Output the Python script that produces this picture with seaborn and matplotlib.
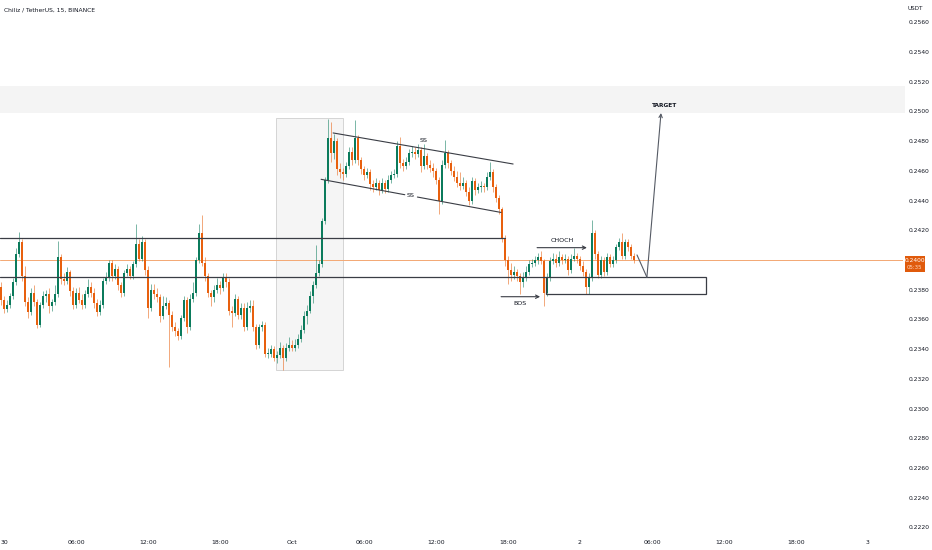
import numpy as np
import pandas as pd
import matplotlib
matplotlib.use("Agg")
import matplotlib.pyplot as plt
import matplotlib.transforms as mtransforms
from matplotlib.patches import Rectangle
from matplotlib import font_manager
import seaborn as sns

# ---------------- data (15-minute candles, CHZ/USDT) ----------------
first_open = 0.2382
closes = [
    0.2373, 0.2367, 0.2370, 0.2376, 0.2385, 0.2404, 0.2412, 0.2389, 0.2372, 0.2365,
    0.2378, 0.2372, 0.2356, 0.2370, 0.2376, 0.2377, 0.2369, 0.2372, 0.2377, 0.2402,
    0.2387, 0.2386, 0.2392, 0.2379, 0.2370, 0.2378, 0.2373, 0.2370, 0.2377, 0.2382,
    0.2378, 0.2371, 0.2365, 0.2370, 0.2386, 0.2388, 0.2398, 0.2389, 0.2394, 0.2383,
    0.2378, 0.2391, 0.2394, 0.2389, 0.2397, 0.2411, 0.2401, 0.2412, 0.2393, 0.2368,
    0.2380, 0.2377, 0.2375, 0.2362, 0.2369, 0.2371, 0.2363, 0.2355, 0.2352, 0.2349,
    0.2361, 0.2373, 0.2355, 0.2374, 0.2378, 0.2400, 0.2418, 0.2398, 0.2389, 0.2378,
    0.2375, 0.2380, 0.2383, 0.2381, 0.2388, 0.2385, 0.2366, 0.2364, 0.2374, 0.2363,
    0.2368, 0.2355, 0.2368, 0.2369, 0.2355, 0.2343, 0.2355, 0.2356, 0.2337, 0.2337,
    0.2340, 0.2334, 0.2336, 0.2341, 0.2334, 0.2341, 0.2343, 0.2341, 0.2343, 0.2347,
    0.2353, 0.2362, 0.2366, 0.2376, 0.2383, 0.2391, 0.2397, 0.2426, 0.2454, 0.2482,
    0.2472, 0.2480, 0.2461, 0.2459, 0.2458, 0.2463, 0.2473, 0.2467, 0.2482, 0.2467,
    0.2461, 0.2457, 0.2459, 0.2451, 0.2449, 0.2452, 0.2447, 0.2452, 0.2448, 0.2454,
    0.2457, 0.2458, 0.2477, 0.2465, 0.2463, 0.2466, 0.2472, 0.2473, 0.2471, 0.2474,
    0.2463, 0.2470, 0.2464, 0.2462, 0.2460, 0.2454, 0.2440, 0.2464, 0.2472, 0.2465,
    0.2460, 0.2456, 0.2452, 0.2450, 0.2452, 0.2446, 0.2440, 0.2453, 0.2447, 0.2449,
    0.2450, 0.2449, 0.2456, 0.2459, 0.2449, 0.2442, 0.2434, 0.2415, 0.2400, 0.2393,
    0.2390, 0.2392, 0.2389, 0.2385, 0.2388, 0.2392, 0.2397, 0.2398, 0.2400, 0.2402,
    0.2399, 0.2378, 0.2388, 0.2399, 0.2401, 0.2398, 0.2402, 0.2400, 0.2401, 0.2393,
    0.2401, 0.2403, 0.2401, 0.2396, 0.2392, 0.2382, 0.2388, 0.2418, 0.2404, 0.2390,
    0.2400, 0.2392, 0.2402, 0.2397, 0.2400, 0.2409, 0.2412, 0.2403, 0.2412, 0.2409,
    0.2403, 0.2400,
]
highs = [
    0.2385, 0.2376, 0.2373, 0.2378, 0.2388, 0.2408, 0.2419, 0.2414, 0.2396, 0.2375,
    0.2381, 0.2383, 0.2374, 0.2372, 0.2379, 0.2380, 0.2381, 0.2374, 0.2383, 0.2413,
    0.2404, 0.2391, 0.2395, 0.2393, 0.2382, 0.2381, 0.2382, 0.2377, 0.2380, 0.2387,
    0.2385, 0.2381, 0.2374, 0.2373, 0.2388, 0.2392, 0.2400, 0.2400, 0.2397, 0.2396,
    0.2385, 0.2393, 0.2397, 0.2396, 0.2399, 0.2424, 0.2414, 0.2416, 0.2414, 0.2396,
    0.2384, 0.2384, 0.2381, 0.2377, 0.2376, 0.2375, 0.2373, 0.2366, 0.2358, 0.2354,
    0.2363, 0.2376, 0.2375, 0.2377, 0.2385, 0.2402, 0.2424, 0.2430, 0.2402, 0.2391,
    0.2380, 0.2383, 0.2388, 0.2386, 0.2391, 0.2391, 0.2388, 0.2369, 0.2377, 0.2376,
    0.2371, 0.2371, 0.2372, 0.2373, 0.2373, 0.2357, 0.2357, 0.2359, 0.2358, 0.2341,
    0.2343, 0.2342, 0.2339, 0.2345, 0.2343, 0.2344, 0.2348, 0.2346, 0.2347, 0.2350,
    0.2356, 0.2366, 0.2370, 0.2379, 0.2386, 0.2410, 0.2400, 0.2428, 0.2456, 0.2495,
    0.2493, 0.2485, 0.2482, 0.2465, 0.2462, 0.2466, 0.2476, 0.2476, 0.2494, 0.2484,
    0.2469, 0.2463, 0.2462, 0.2461, 0.2454, 0.2455, 0.2454, 0.2455, 0.2454, 0.2457,
    0.2460, 0.2461, 0.2480, 0.2483, 0.2468, 0.2469, 0.2475, 0.2477, 0.2476, 0.2478,
    0.2476, 0.2478, 0.2472, 0.2467, 0.2465, 0.2462, 0.2456, 0.2467, 0.2481, 0.2474,
    0.2467, 0.2463, 0.2460, 0.2459, 0.2456, 0.2454, 0.2449, 0.2456, 0.2455, 0.2452,
    0.2453, 0.2452, 0.2459, 0.2466, 0.2461, 0.2451, 0.2444, 0.2436, 0.2417, 0.2403,
    0.2398, 0.2396, 0.2394, 0.2391, 0.2392, 0.2396, 0.2400, 0.2401, 0.2403, 0.2405,
    0.2406, 0.2401, 0.2391, 0.2402, 0.2405, 0.2404, 0.2406, 0.2404, 0.2404, 0.2403,
    0.2404, 0.2408, 0.2405, 0.2403, 0.2399, 0.2394, 0.2391, 0.2427, 0.2420, 0.2406,
    0.2403, 0.2402, 0.2405, 0.2404, 0.2403, 0.2411, 0.2415, 0.2418, 0.2414, 0.2414,
    0.2411, 0.2405,
]
lows = [
    0.2370, 0.2364, 0.2365, 0.2368, 0.2374, 0.2383, 0.2402, 0.2386, 0.2369, 0.2361,
    0.2363, 0.2369, 0.2354, 0.2355, 0.2368, 0.2372, 0.2364, 0.2366, 0.2370, 0.2375,
    0.2384, 0.2383, 0.2384, 0.2376, 0.2367, 0.2368, 0.2371, 0.2367, 0.2368, 0.2375,
    0.2375, 0.2368, 0.2362, 0.2363, 0.2368, 0.2384, 0.2386, 0.2386, 0.2387, 0.2380,
    0.2375, 0.2376, 0.2389, 0.2387, 0.2387, 0.2395, 0.2399, 0.2399, 0.2390, 0.2361,
    0.2366, 0.2374, 0.2372, 0.2358, 0.2360, 0.2367, 0.2328, 0.2352, 0.2349, 0.2346,
    0.2347, 0.2359, 0.2351, 0.2353, 0.2372, 0.2376, 0.2398, 0.2396, 0.2386, 0.2375,
    0.2369, 0.2372, 0.2378, 0.2377, 0.2379, 0.2382, 0.2363, 0.2355, 0.2362, 0.2360,
    0.2360, 0.2352, 0.2353, 0.2365, 0.2352, 0.2340, 0.2341, 0.2352, 0.2335, 0.2334,
    0.2335, 0.2332, 0.2331, 0.2334, 0.2326, 0.2332, 0.2339, 0.2339, 0.2339, 0.2341,
    0.2345, 0.2351, 0.2357, 0.2364, 0.2371, 0.2381, 0.2389, 0.2395, 0.2424, 0.2452,
    0.2466, 0.2468, 0.2457, 0.2455, 0.2454, 0.2456, 0.2461, 0.2464, 0.2465, 0.2464,
    0.2458, 0.2454, 0.2455, 0.2447, 0.2446, 0.2447, 0.2444, 0.2445, 0.2445, 0.2446,
    0.2452, 0.2455, 0.2456, 0.2462, 0.2460, 0.2461, 0.2464, 0.2469, 0.2468, 0.2469,
    0.2459, 0.2461, 0.2461, 0.2459, 0.2456, 0.2451, 0.2431, 0.2438, 0.2462, 0.2462,
    0.2457, 0.2453, 0.2449, 0.2447, 0.2448, 0.2443, 0.2437, 0.2438, 0.2444, 0.2445,
    0.2446, 0.2446, 0.2447, 0.2454, 0.2446, 0.2439, 0.2431, 0.2412, 0.2396, 0.2384,
    0.2386, 0.2387, 0.2386, 0.2377, 0.2382, 0.2386, 0.2390, 0.2395, 0.2396, 0.2397,
    0.2397, 0.2369, 0.2376, 0.2386, 0.2397, 0.2395, 0.2396, 0.2397, 0.2398, 0.2390,
    0.2391, 0.2399, 0.2398, 0.2393, 0.2389, 0.2377, 0.2377, 0.2386, 0.2401, 0.2388,
    0.2388, 0.2389, 0.2390, 0.2395, 0.2395, 0.2398, 0.2407, 0.2401, 0.2401, 0.2406,
    0.2401, 0.2398,
]
x_tick_labels = ["30", "06:00", "12:00", "18:00", "Oct", "06:00", "12:00",
                 "18:00", "2", "06:00", "12:00", "18:00", "3"]
bars_per_label = 24          # 6 hours of 15-minute bars
first_label_bar = 1          # bar of Sep 30 00:00
price_ticks = [0.2220, 0.2240, 0.2260, 0.2280, 0.2300, 0.2320, 0.2340, 0.2360, 0.2380,
               0.2400, 0.2420, 0.2440, 0.2460, 0.2480, 0.2500, 0.2520, 0.2540, 0.2560]
last_price = 0.2400
countdown = "05:35"

# drawing annotations (in bar / price units)
level_high = 0.24148
level_low = 0.23886
demand_box = (181.7, 235.0, 0.23771, 0.23886)   # bar0, bar1, price0, price1
supply_band = (0.24989, 0.25171)
range_box = (91.7, 114.0, 0.2326, 0.24956)
chan_upper = ([110.7, 170.7], [0.24855, 0.24646])
chan_lower = ([106.7, 166.7], [0.24543, 0.24320])
choch = ([178.7, 195.3], 0.24083)
bos = ([166.7, 179.7], 0.23753)
projection = ([212.0, 215.3, 220.0], [0.24034, 0.23884, 0.24989])

# ---------------- styling ----------------
sns.set_theme(style="white")
names = {f.name for f in font_manager.fontManager.ttflist}
narrow = "Liberation Sans Narrow" if "Liberation Sans Narrow" in names else "DejaVu Sans"
plt.rcParams["font.family"] = [narrow, "DejaVu Sans"]

UP = "#0b7b5c"
DOWN = "#e8600e"
TXT = "#131722"
LINE = "#3a3d45"

W, H = 932, 550
fig = plt.figure(figsize=(W / 100, H / 100), dpi=100)
fig.patch.set_facecolor("white")
ax_left, ax_right, ax_bottom, ax_top = 0, 903, 532, 0
ax = fig.add_axes([ax_left / W, 1 - ax_bottom / H, (ax_right - ax_left) / W, (ax_bottom - ax_top) / H])
ax.set_facecolor("white")

n = len(closes)
opens = [first_open] + closes[:-1]
df = pd.DataFrame({"bar": np.arange(n), "open": opens, "close": closes,
                   "high": highs, "low": lows})
df["up"] = df["close"] >= df["open"]
df["color"] = np.where(df["up"], UP, DOWN)

x0 = -1 / 3
x1 = x0 + (ax_right - ax_left) / 3
ax.set_xlim(x0, x1)
px_per_price = 29.72 / 0.0020
y_top = 0.2400 + 260 / px_per_price
y_bot = 0.2400 - (532 - 260) / px_per_price
ax.set_ylim(y_bot, y_top)

blend = mtransforms.blended_transform_factory(ax.transAxes, ax.transData)

# supply band (extends under the price scale)
ax.add_patch(Rectangle((0, supply_band[0]), 905 / 903, supply_band[1] - supply_band[0],
                       transform=blend, facecolor="#f4f4f4", edgecolor="none",
                       clip_on=False, zorder=0))
# range highlight
ax.add_patch(Rectangle((range_box[0], range_box[2]), range_box[1] - range_box[0],
                       range_box[3] - range_box[2], facecolor="#f5f5f5",
                       edgecolor="#cfcfcf", lw=0.6, zorder=0.5))

# current price line
ax.axhline(last_price, color="#f3a873", lw=0.7, zorder=1)

# candles
ax.vlines(df["bar"], df["low"], df["high"], colors=df["color"], lw=0.7, alpha=0.55, zorder=2)
body = np.maximum((df["close"] - df["open"]).abs(), 0.000025)
ax.bar(df["bar"], body, bottom=np.minimum(df["open"], df["close"]), width=0.66,
       color=df["color"], linewidth=0, zorder=3)

# horizontal levels
ax.plot([x0, 168.0], [level_high, level_high], color=LINE, lw=0.9, zorder=4)
ax.plot([x0, demand_box[0]], [level_low, level_low], color=LINE, lw=0.9, zorder=4)
ax.add_patch(Rectangle((demand_box[0], demand_box[2]), demand_box[1] - demand_box[0],
                       demand_box[3] - demand_box[2], facecolor="none",
                       edgecolor=LINE, lw=0.9, zorder=4))

# channel
ax.plot(chan_upper[0], chan_upper[1], color=LINE, lw=0.8, zorder=4)
gap = [134.6, 138.8]
gy = np.interp(gap, chan_lower[0], chan_lower[1])
ax.plot([chan_lower[0][0], gap[0]], [chan_lower[1][0], gy[0]], color=LINE, lw=0.8, zorder=4)
ax.plot([gap[1], chan_lower[0][1]], [gy[1], chan_lower[1][1]], color=LINE, lw=0.8, zorder=4)
ax.text(141.0, 0.24801, "SS", fontsize=4.6, color=TXT, ha="center", va="center", zorder=5)
ax.text(136.7, 0.24431, "SS", fontsize=4.6, color=TXT, ha="center", va="center", zorder=5)

# CHOCH and BOS
arrow_kw = dict(arrowstyle="->", color=LINE, lw=0.8, shrinkA=0, shrinkB=0,
                mutation_scale=6)
ax.annotate("", xy=(choch[0][1], choch[1]), xytext=(choch[0][0], choch[1]),
            arrowprops=arrow_kw, zorder=5)
ax.text(sum(choch[0]) / 2, choch[1] + 0.00050, "CHOCH", fontsize=4.6, color=TXT,
        ha="center", va="center")
ax.annotate("", xy=(bos[0][1], bos[1]), xytext=(bos[0][0], bos[1]),
            arrowprops=arrow_kw, zorder=5)
ax.text(173.0, bos[1] - 0.00044, "BOS", fontsize=4.6, color=TXT, ha="center", va="center")

# projection to target
ax.plot(projection[0][:2], projection[1][:2], color="#555a64", lw=0.8, zorder=5)
ax.annotate("", xy=(projection[0][2], projection[1][2]),
            xytext=(projection[0][1], projection[1][1]),
            arrowprops=dict(arrowstyle="->", color="#555a64", lw=0.8, shrinkA=0,
                            shrinkB=0, mutation_scale=6), zorder=5)
ax.text(221.3, projection[1][2] + 0.00050, "TARGET", fontsize=4.2, color=TXT,
        ha="center", va="center", fontweight="bold")

# axes / ticks
for s in ax.spines.values():
    s.set_visible(False)
xt = [first_label_bar + k * bars_per_label for k in range(len(x_tick_labels))]
ax.set_xticks(xt)
ax.set_xticklabels(x_tick_labels, fontsize=4.4, color=TXT)
ax.yaxis.tick_right()
ax.set_yticks(price_ticks)
ax.set_yticklabels(["" if abs(p - last_price) < 1e-9 else f"{p:.4f}" for p in price_ticks],
                   fontsize=4.3, color=TXT)
ax.tick_params(axis="x", length=0, pad=6)
ax.tick_params(axis="y", length=0, pad=4)
for lab in ax.get_yticklabels():
    lab.set_ha("left")
ax.grid(False)

# price label on the scale
fig.add_artist(Rectangle((904.5 / W, 1 - 271.5 / H), 20 / W, 15.5 / H,
                         transform=fig.transFigure, facecolor="#e05a0b",
                         edgecolor="none", zorder=10))
fig.text(914.5 / W, 1 - 260.5 / H, f"{last_price:.4f}", fontsize=4.2, color="white",
         ha="center", va="center", zorder=11)
fig.text(914.5 / W, 1 - 267.3 / H, countdown, fontsize=3.9, color="#ffd9bf",
         ha="center", va="center", zorder=11)

fig.text(908 / W, 1 - 8.5 / H, "USDT", fontsize=4.1, color=TXT, ha="left", va="center")
fig.text(4 / W, 1 - 10.5 / H, "Chiliz / TetherUS, 15, BINANCE", fontsize=4.3,
         color=TXT, ha="left", va="center")

fig.savefig("out.png", dpi=100, facecolor="white")
